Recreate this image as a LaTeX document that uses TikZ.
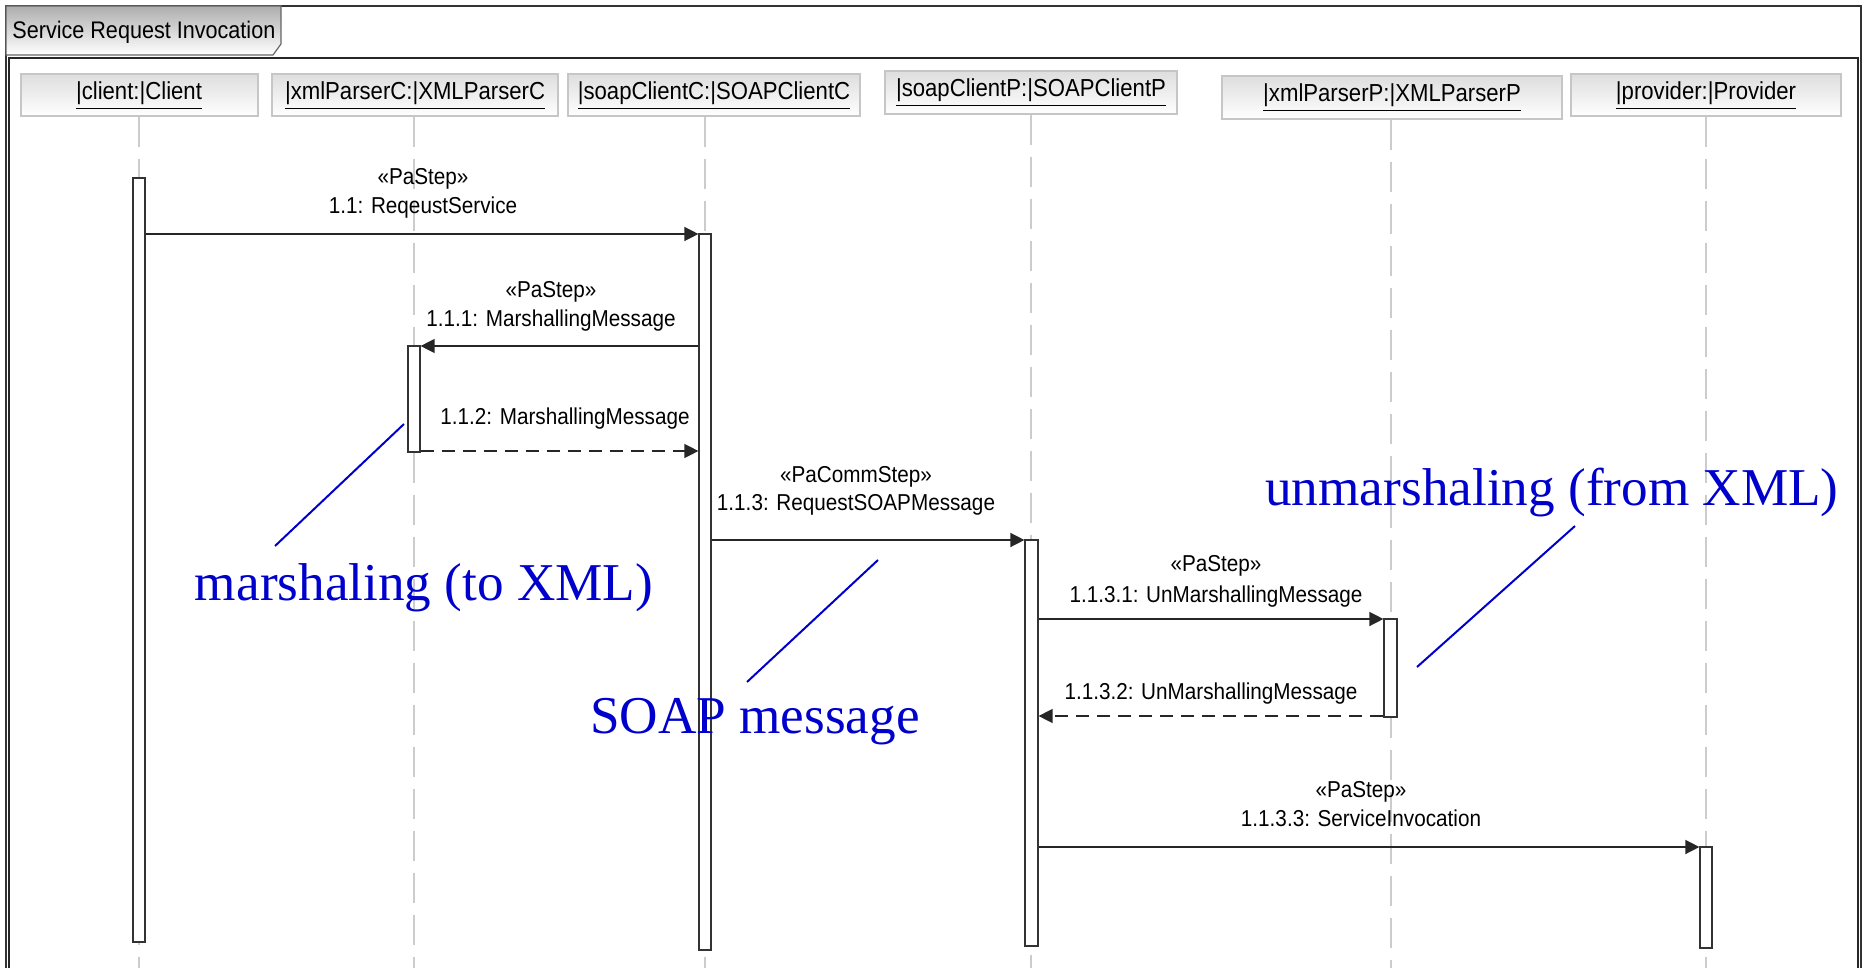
\documentclass[tikz,border=0pt]{standalone}
\usepackage{fontspec}
\setmainfont{Liberation Serif}
\newfontfamily\umlfont[FakeStretch=0.9]{Liberation Sans}
\usetikzlibrary{arrows.meta,fit}
\definecolor{noteblue}{RGB}{0,0,204}

\begin{document}
\begin{tikzpicture}[x=0.5pt,y=-0.5pt,
  frame/.style={draw=black!80,line width=1pt},
  innerframe/.style={draw=black!85,line width=1.4pt},
  tabshape/.style={draw=black!60,line width=0.6pt,top color=black!32,bottom color=white},
  titletext/.style={font=\umlfont\fontsize{12}{14}\selectfont,anchor=base west,inner sep=0},
  head/.style={draw=gray!45,line width=0.6pt,top color=black!13,bottom color=white,inner sep=0},
  headtext/.style={font=\umlfont\fontsize{12.3}{15}\selectfont,anchor=base,inner sep=0},
  bar/.style={draw=black!80,fill=white,inner sep=0,line width=0.6pt},
  life/.style={draw=gray!40,line width=0.7pt,dash pattern=on 15pt off 6pt},
  msg/.style={draw=black!85,line width=0.7pt,-{Triangle[length=7pt,width=7pt]}},
  ret/.style={msg,dash pattern=on 6.5pt off 4pt},
  lbl/.style={font=\umlfont\fontsize{11.5}{14}\selectfont,anchor=base,inner sep=0},
  note/.style={text=noteblue,font=\fontsize{26.6}{32}\selectfont,anchor=base,inner sep=0},
  noteline/.style={draw=noteblue,line width=1pt}]
\useasboundingbox (0,0) rectangle (1862,968);

% frames and title tab
\draw[frame] (6,6) rectangle (1861,1000);
\draw[innerframe] (9,58) rectangle (1858,1000);
\draw[tabshape] (6,6) -- (281,6) -- (281,44) -- (273,55) -- (6,55) -- cycle;
\node[titletext] (ttl) at (12,39) {Service Request Invocation};

% lifeline heads
\node[head,fit={(21,74) (258,116)}] (h1) {};
\node[head,fit={(272,74) (558,116)}] (h2) {};
\node[head,fit={(568,74) (860,116)}] (h3) {};
\node[head,fit={(885,71) (1177,114)}] (h4) {};
\node[head,fit={(1222,76) (1562,119)}] (h5) {};
\node[head,fit={(1571,74) (1841,116)}] (h6) {};
\node[headtext] (ht1) at (139,100) {\underline{|client:|Client}};
\node[headtext] (ht2) at (415,100) {\underline{|xmlParserC:|XMLParserC}};
\node[headtext] (ht3) at (714,100) {\underline{|soapClientC:|SOAPClientC}};
\node[headtext] (ht4) at (1031,97) {\underline{|soapClientP:|SOAPClientP}};
\node[headtext] (ht5) at (1392,102) {\underline{|xmlParserP:|XMLParserP}};
\node[headtext] (ht6) at (1706,100) {\underline{|provider:|Provider}};

% lifelines
\coordinate (l1) at (139,968);
\coordinate (l2) at (414,968);
\coordinate (l3) at (705,968);
\coordinate (l4) at (1031,968);
\coordinate (l5) at (1391,968);
\coordinate (l6) at (1706,968);
\draw[life] (h1.south -| l1) -- (l1);
\draw[life] (h2.south -| l2) -- (l2);
\draw[life] (h3.south -| l3) -- (l3);
\draw[life] (h4.south -| l4) -- (l4);
\draw[life] (h5.south -| l5) -- (l5);
\draw[life] (h6.south -| l6) -- (l6);

% activation bars
\node[bar,fit={(133,178) (145,942)}] (b1) {};
\node[bar,fit={(408,346) (420,452)}] (b2) {};
\node[bar,fit={(699,234) (711,950)}] (b3) {};
\node[bar,fit={(1025,540) (1038,946)}] (b4) {};
\node[bar,fit={(1384,619) (1397,717)}] (b5) {};
\node[bar,fit={(1700,847) (1712,948)}] (b6) {};

% messages
\draw[msg] (b1.east |- 0,234) -- (b3.west |- 0,234);
\node[lbl] (s1) at (423,185) {«PaStep»};
\node[lbl] (m1) at (423,214) {1.1: ReqeustService};

\draw[msg] (b3.west |- 0,346) -- (b2.east |- 0,346);
\node[lbl] (s2) at (551,297) {«PaStep»};
\node[lbl] (m2) at (551,326) {1.1.1: MarshallingMessage};

\draw[ret] (b2.east |- 0,451) -- (b3.west |- 0,451);
\node[lbl] (m3) at (565,424) {1.1.2: MarshallingMessage};

\draw[msg] (b3.east |- 0,540) -- (b4.west |- 0,540);
\node[lbl] (s4) at (856,482) {«PaCommStep»};
\node[lbl] (m4) at (856,510) {1.1.3: RequestSOAPMessage};

\draw[msg] (b4.east |- 0,619) -- (b5.west |- 0,619);
\node[lbl] (s5) at (1216,571) {«PaStep»};
\node[lbl] (m5) at (1216,602) {1.1.3.1: UnMarshallingMessage};

\draw[ret] (b5.west |- 0,716) -- (b4.east |- 0,716);
\node[lbl] (m6) at (1211,699) {1.1.3.2: UnMarshallingMessage};

\draw[msg] (b4.east |- 0,847) -- (b6.west |- 0,847);
\node[lbl] (s7) at (1361,797) {«PaStep»};
\node[lbl] (m7) at (1361,826) {1.1.3.3: ServiceInvocation};

% annotations
\node[note] (t1) at (424,600) {marshaling (to XML)};
\node[note] (t2) at (755,733) {SOAP message};
\node[note] (t3) at (1552,505) {unmarshaling (from XML)};
\coordinate (p1a) at (275,546); \coordinate (p1b) at (404,424);
\coordinate (p2a) at (747,682); \coordinate (p2b) at (878,560);
\coordinate (p3a) at (1417,667); \coordinate (p3b) at (1575,526);
\draw[noteline] (p1a) -- (p1b);
\draw[noteline] (p2a) -- (p2b);
\draw[noteline] (p3a) -- (p3b);
\end{tikzpicture}
\end{document}
